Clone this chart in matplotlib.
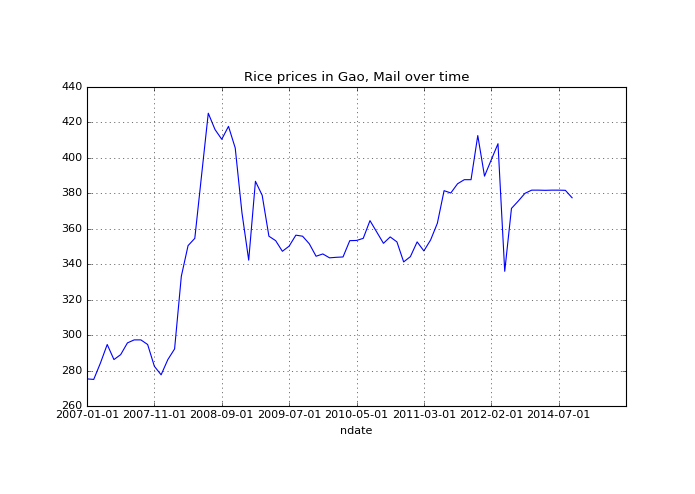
import matplotlib
matplotlib.use('Agg')
import matplotlib.pyplot as plt

# Reispreise in Gao
prices = [275.3, 275.0, 284.3, 294.7, 286.2, 289.0, 295.6, 297.3, 297.3, 294.7,
          282.4, 277.6, 286.2, 292.2, 333.2, 350.5, 354.6, 390.0, 425.2, 416.0,
          410.5, 417.8, 405.6, 369.0, 342.3, 386.8, 378.9, 355.8, 353.3, 347.3,
          350.2, 356.4, 355.8, 351.5, 344.5, 345.8, 343.6, 343.9, 344.1, 353.3,
          353.4, 354.6, 364.6, 358.2, 351.8, 355.4, 352.6, 341.3, 344.3, 352.6,
          347.5, 353.7, 363.1, 381.5, 380.2, 385.4, 387.7, 387.7, 412.6, 389.7,
          398.9, 408.0, 336.0, 371.5, 375.6, 380.0, 381.8, 381.8, 381.7, 381.8,
          381.8, 381.7, 377.5]
tick_labels = ['2007-01-01', '2007-11-01', '2008-09-01', '2009-07-01', '2010-05-01',
               '2011-03-01', '2012-02-01', '2014-07-01', '']

plt.style.use('classic')
plt.rcParams['font.family'] = 'DejaVu Sans'
plt.rcParams['font.size'] = 10

fig = plt.figure(figsize=(695 / 80, 494 / 80), dpi=80, facecolor='white')
ax = fig.add_axes([87 / 695, (494 - 406) / 494, (626 - 87) / 695, (406 - 87) / 494])

x = list(range(len(prices)))
ax.plot(x, prices, color='b', linewidth=1)

ax.set_xlim(0, 80)
ax.set_ylim(260, 440)
ax.set_xticks(range(0, 81, 10))
ax.set_xticklabels(tick_labels)
ax.set_yticks(range(260, 441, 20))
ax.grid(True)

ax.set_title('Rice prices in Gao, Mail over time')
ax.set_xlabel('ndate')

plt.savefig('out.png', dpi=80, facecolor='white')
